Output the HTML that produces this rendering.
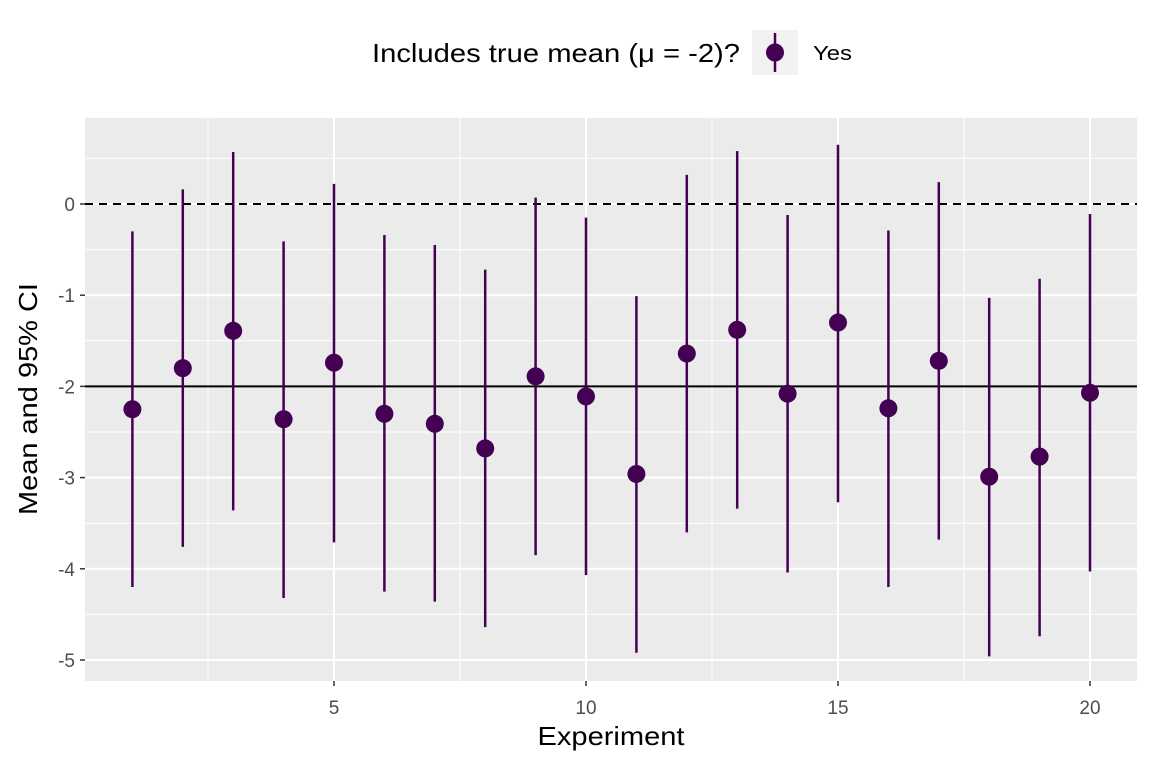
<!DOCTYPE html>
<html><head><meta charset="utf-8"><style>
html,body{margin:0;padding:0;background:#fff;}
svg{display:block;font-family:"Liberation Sans",Arial,sans-serif;}
</style></head><body>
<svg id="chart" width="1152" height="768" xmlns="http://www.w3.org/2000/svg">
<rect x="85" y="118" width="1052" height="563" fill="#EBEBEB"/>
<g id="grid"></g>
<g id="refs"></g>
<g id="marks"></g>
<g id="axes"></g>
<g>
<text x="372" y="62" font-size="26" textLength="368" lengthAdjust="spacingAndGlyphs" fill="#000">Includes true mean (μ = -2)?</text>
<rect x="752" y="30" width="46" height="45" fill="#F2F2F2"/>
<line x1="775" y1="33" x2="775" y2="72" stroke="#440154" stroke-width="2.5"/>
<circle cx="775" cy="52.5" r="9" fill="#440154"/>
<text x="813" y="60" font-size="20" textLength="39" lengthAdjust="spacingAndGlyphs" fill="#000">Yes</text>
</g>
<text x="611" y="745" font-size="26" text-anchor="middle" textLength="147" lengthAdjust="spacingAndGlyphs" fill="#000">Experiment</text>
<text transform="translate(37,399) rotate(-90)" font-size="26" text-anchor="middle" textLength="232" lengthAdjust="spacingAndGlyphs" fill="#000">Mean and 95% CI</text>
</svg>
<script>
const experiments=[1,2,3,4,5,6,7,8,9,10,11,12,13,14,15,16,17,18,19,20];
const means=[-2.25,-1.80,-1.39,-2.36,-1.74,-2.30,-2.41,-2.68,-1.89,-2.11,-2.96,-1.64,-1.38,-2.08,-1.30,-2.24,-1.72,-2.99,-2.77,-2.07];
const upper=[-0.30,0.16,0.57,-0.41,0.22,-0.34,-0.45,-0.72,0.07,-0.15,-1.01,0.32,0.58,-0.12,0.65,-0.29,0.24,-1.03,-0.82,-0.11];
const lower=[-4.20,-3.76,-3.36,-4.32,-3.71,-4.25,-4.36,-4.64,-3.85,-4.07,-4.92,-3.60,-3.34,-4.04,-3.27,-4.20,-3.68,-4.96,-4.74,-4.03];
const xTicks=[5,10,15,20];
const yTicks=[0,-1,-2,-3,-4,-5];
const xMinor=[2.5,7.5,12.5,17.5];
const yMinor=[0.5,-0.5,-1.5,-2.5,-3.5,-4.5];
const trueMean=-2;
const X=v=>334+(v-5)*50.4;
const Y=v=>204-v*91.2;
const NS="http://www.w3.org/2000/svg";
function mk(t,a,p){const e=document.createElementNS(NS,t);for(const k in a)e.setAttribute(k,a[k]);p.appendChild(e);return e;}
const grid=document.getElementById('grid'),refs=document.getElementById('refs'),marks=document.getElementById('marks'),axes=document.getElementById('axes');
yMinor.forEach(v=>{const e=mk('line',{x1:85,x2:1137,y1:Y(v),y2:Y(v),stroke:'#fff','stroke-width':1},grid);

});
xMinor.forEach(v=>{const e=mk('line',{x1:X(v),x2:X(v),y1:118,y2:681,stroke:'#fff','stroke-width':1},grid);

});
yTicks.forEach(v=>{const e=mk('line',{x1:85,x2:1137,y1:Y(v),y2:Y(v),stroke:'#fff','stroke-width':2},grid);


mk('line',{x1:80,x2:85,y1:Y(v),y2:Y(v),stroke:'#333','stroke-width':1.5},axes);
const t=mk('text',{x:75,y:Y(v)+7,'font-size':19,'text-anchor':'end',fill:'#4D4D4D'},axes);t.textContent=v;

});
xTicks.forEach(v=>{const e=mk('line',{x1:X(v),x2:X(v),y1:118,y2:681,stroke:'#fff','stroke-width':2},grid);


mk('line',{x1:X(v),x2:X(v),y1:681,y2:686,stroke:'#333','stroke-width':1.5},axes);
const t=mk('text',{x:X(v),y:714,'font-size':19,'text-anchor':'middle',fill:'#4D4D4D'},axes);t.textContent=v;

});
const z=mk('line',{x1:85,x2:1137,y1:Y(0),y2:Y(0),stroke:'#000','stroke-width':2,'stroke-dasharray':'8,6'},refs);


const tm=mk('line',{x1:85,x2:1137,y1:Y(trueMean),y2:Y(trueMean),stroke:'#000','stroke-width':2},refs);


experiments.forEach((x,i)=>{
const l=mk('line',{x1:X(x),x2:X(x),y1:Y(upper[i]),y2:Y(lower[i]),stroke:'#440154','stroke-width':2.5},marks);


const c=mk('circle',{cx:X(x),cy:Y(means[i]),r:9,fill:'#440154'},marks);


});
</script>
</body></html>
